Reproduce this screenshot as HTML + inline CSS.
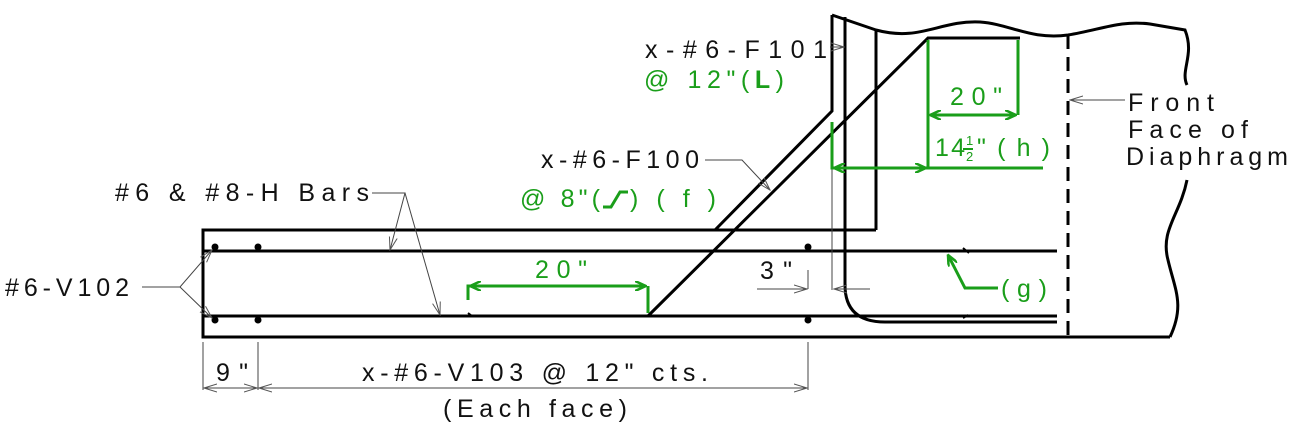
<!DOCTYPE html>
<html><head><meta charset="utf-8"><style>
html,body{margin:0;padding:0;background:#fff;}
svg{display:block}
text{font-family:"Liberation Sans","DejaVu Sans",sans-serif;font-size:25px;}
text.fr{font-size:13px;}
.g{fill:#1a9e1a}
.k{fill:#111}
</style></head><body>
<svg width="1300" height="427" viewBox="0 0 1300 427" xmlns="http://www.w3.org/2000/svg">
<defs>
<marker id="ag" markerWidth="12" markerHeight="10" refX="11" refY="5" orient="auto" markerUnits="userSpaceOnUse"><path d="M0,0 L11,5 L0,10" fill="none" stroke="#1a9e1a" stroke-width="2.5"/></marker>
<marker id="at" markerWidth="14" markerHeight="10" refX="13" refY="5" orient="auto" markerUnits="userSpaceOnUse"><path d="M0,1 L13,5 L0,9" fill="none" stroke="#555" stroke-width="1"/></marker>
</defs>
<g fill="none" stroke="#000" stroke-width="3">
<path d="M876,230 H203 V337 H1170"/>
<path d="M715,230 L832,111 V15"/>
<path d="M876,230 V30"/>
<path d="M832,15 L876,30 C920,42 940,20 980,22 C1010,24 1030,40 1068,35 C1100,30 1120,20 1150,24 L1185,30 C1195,55 1180,70 1187,85"/>
<path d="M1187,180 C1180,215 1160,230 1168,260 C1175,290 1185,305 1170,337"/>
<path d="M845,17 V285 Q845,322 885,322 H1057"/>
<path d="M648,316 L928,38 H1020"/>
<path d="M203,251 H1057"/>
<path d="M203,316 H1057"/>
</g>
<path d="M1068,35 V337" stroke="#000" stroke-width="3" stroke-dasharray="14,8" fill="none"/>
<path d="M468,313 l4,3 M963,248 l6,5 M963,318 l5,-3" stroke="#000" stroke-width="2" fill="none"/>
<g fill="#000"><circle cx="215" cy="247" r="3.5"/><circle cx="258" cy="247" r="3.5"/><circle cx="215" cy="320" r="3.5"/><circle cx="258" cy="320" r="3.5"/><circle cx="808" cy="247" r="3.5"/><circle cx="808" cy="320" r="3.5"/></g>
<g stroke="#444" stroke-width="1" fill="none">
<path d="M832,168 V290"/>
<path d="M757,289 H807" marker-end="url(#at)"/>
<path d="M870,289 H834" marker-end="url(#at)"/>
<path d="M808,270 V289"/>
<path d="M203,342 V390 M258,342 V390 M808,342 V390"/>
<path d="M230,388 H204" marker-end="url(#at)"/>
<path d="M230,388 H257" marker-end="url(#at)"/>
<path d="M280,388 H259" marker-end="url(#at)"/>
<path d="M280,388 H807" marker-end="url(#at)"/>
<path d="M830,47 H844" marker-end="url(#at)"/>
<path d="M1125,100 H1070" marker-end="url(#at)"/>
<path d="M705,160 H742 L770,190" marker-end="url(#at)"/>
<path d="M372,193 H405 L390,250" marker-end="url(#at)"/>
<path d="M405,193 L440,315" marker-end="url(#at)"/>
<path d="M142,287 H180 L212,250" marker-end="url(#at)"/>
<path d="M180,287 L212,318" marker-end="url(#at)"/>
</g>
<g stroke="#1a9e1a" stroke-width="3" fill="none">
<path d="M928,40 V168 M1018,40 V115"/>
<path d="M832,122 V168 H1043"/>
<path d="M880,168 H834" marker-end="url(#ag)"/>
<path d="M880,168 H926" marker-end="url(#ag)"/>
<path d="M973,115 H930" marker-end="url(#ag)"/>
<path d="M973,115 H1016" marker-end="url(#ag)"/>
<path d="M468,300 V286 H470 M648,313 V286"/>
<path d="M558,286 H470" marker-end="url(#ag)"/>
<path d="M558,286 H646" marker-end="url(#ag)"/>
<path d="M998,288 H965 L948,255" marker-end="url(#ag)"/>
<path d="M603,207 H611 L620,192 H628"/>
</g>
<text class="k" x="645" y="58" textLength="182" lengthAdjust="spacing">x-#6-F101</text>
<text class="g" x="644" y="88" textLength="140" lengthAdjust="spacing">@ 12"(<tspan font-weight="bold">L</tspan>)</text>
<text class="k" x="541" y="168" textLength="158" lengthAdjust="spacing">x-#6-F100</text>
<text class="g" x="520" y="207" textLength="80" lengthAdjust="spacing">@ 8"(</text>
<text class="g" x="630" y="207" textLength="86" lengthAdjust="spacing">)(f)</text>
<text class="k" x="115" y="201" textLength="254" lengthAdjust="spacing">#6 &amp; #8-H Bars</text>
<text class="k" x="5" y="296" textLength="124" lengthAdjust="spacing">#6-V102</text>
<text class="g" x="535" y="278" textLength="52" lengthAdjust="spacing">20"</text>
<text class="g" x="950" y="105" textLength="52" lengthAdjust="spacing">20"</text>
<text class="g" x="935" y="156" textLength="30" lengthAdjust="spacing">14</text>
<text class="g fr" x="966" y="145">1</text>
<text class="g fr" x="966" y="161">2</text>
<rect x="963" y="148" width="10" height="2" fill="#1a9e1a"/>
<text class="g" x="977" y="156" textLength="73" lengthAdjust="spacing">"(h)</text>
<text class="k" x="760" y="279" textLength="32" lengthAdjust="spacing">3"</text>
<text class="g" x="1001" y="297" textLength="46" lengthAdjust="spacing">(g)</text>
<text class="k" x="1128" y="111" textLength="86" lengthAdjust="spacing">Front</text>
<text class="k" x="1128" y="138" textLength="120" lengthAdjust="spacing">Face of</text>
<text class="k" x="1126" y="165" textLength="162" lengthAdjust="spacing">Diaphragm</text>
<text class="k" x="216" y="381" textLength="32" lengthAdjust="spacing">9"</text>
<text class="k" x="362" y="381" textLength="346" lengthAdjust="spacing">x-#6-V103 @ 12" cts.</text>
<text class="k" x="443" y="417" textLength="184" lengthAdjust="spacing">(Each face)</text>
</svg>
</body></html>
